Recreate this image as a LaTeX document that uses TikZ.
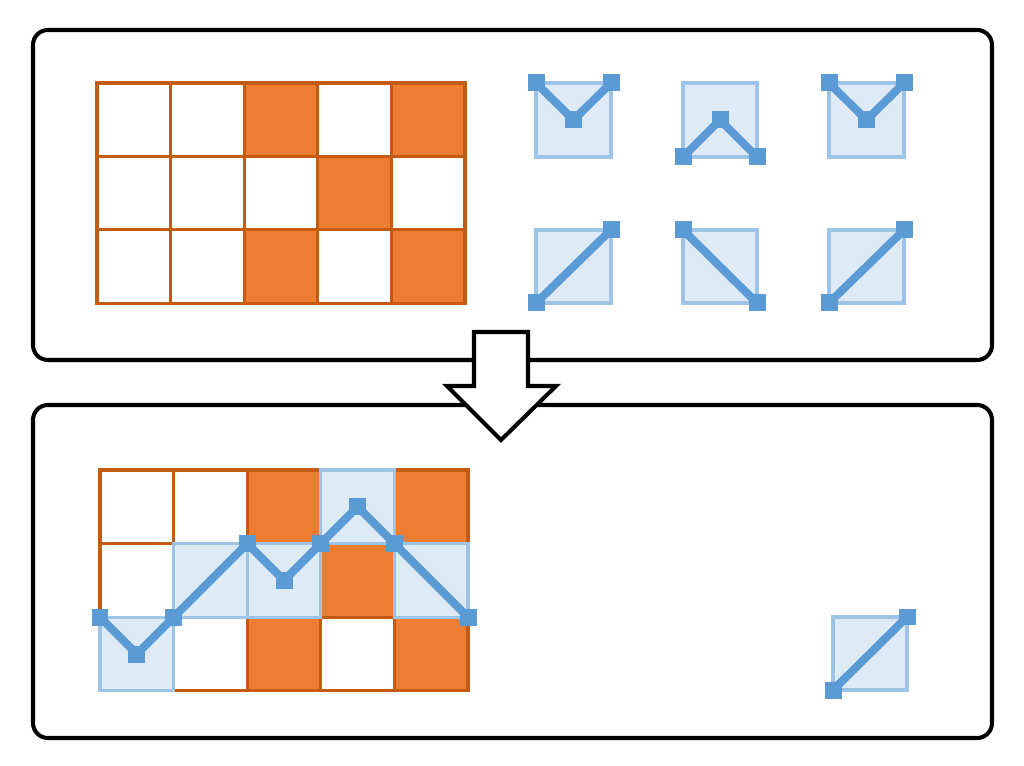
\documentclass[tikz,border=0pt]{standalone}
\usepackage{tikz}
\usetikzlibrary{positioning}
\definecolor{gridorange}{RGB}{197,90,17}
\definecolor{cellorange}{RGB}{237,125,49}
\definecolor{tilefill}{RGB}{222,235,247}
\definecolor{tileedge}{RGB}{157,195,230}
\definecolor{lineblue}{RGB}{91,155,213}

\begin{document}
\begin{tikzpicture}[
        x=0.02cm, y=-0.02cm,
        panel/.style={draw=black, line width=2.3pt, rounded corners=8.5pt},
        cell/.style={draw=gridorange, line width=1.8pt},
        hot/.style={cell, fill=cellorange},
        patch/.style={draw=tileedge, fill=tilefill, line width=1.8pt},
        trace/.style={draw=lineblue, line width=4.6pt, line join=miter},
        knot/.style={rectangle, fill=lineblue, inner sep=0pt, minimum size=0.34cm},
        bigarrow/.style={draw=black, fill=white, line width=2.3pt, line join=miter}
      ]
        \useasboundingbox (0,0) rectangle (1024,766);
        % panels
        \draw[panel] (33,30) rectangle (992,360);
        \draw[panel] (33,405) rectangle (992,738);

        % top grid
        \foreach \r in {0,1,2}
          \foreach \c in {0,...,4}
            \draw[cell] ({97+73.6*\c},{83+73.4*\r}) rectangle +(73.6,73.4);
        \foreach \c/\r in {2/0,4/0,3/1,2/2,4/2}
          \draw[hot] ({97+73.6*\c},{83+73.4*\r}) rectangle +(73.6,73.4);

        % top tiles: valley
        \foreach \x/\y [count=\i] in {536/83,829/83} {
          \draw[patch] (\x,\y) rectangle +(75,74);
          \coordinate (va\i) at (\x,\y);
          \coordinate (vb\i) at (\x+37.5,\y+37);
          \coordinate (vc\i) at (\x+75,\y);
          \draw[trace] (va\i) -- (vb\i) -- (vc\i);
          \node[knot] (kva\i) at (va\i) {};
          \node[knot] (kvb\i) at (vb\i) {};
          \node[knot] (kvc\i) at (vc\i) {};
        }
        % top tiles: peak
        \foreach \x/\y [count=\i] in {683/83} {
          \draw[patch] (\x,\y) rectangle +(74,74);
          \coordinate (pa\i) at (\x,\y+74);
          \coordinate (pb\i) at (\x+37,\y+37);
          \coordinate (pc\i) at (\x+74,\y+74);
          \draw[trace] (pa\i) -- (pb\i) -- (pc\i);
          \node[knot] (kpa\i) at (pa\i) {};
          \node[knot] (kpb\i) at (pb\i) {};
          \node[knot] (kpc\i) at (pc\i) {};
        }
        % top tiles: rising
        \foreach \x/\y [count=\i] in {536/230,829/230} {
          \draw[patch] (\x,\y) rectangle +(75,73);
          \coordinate (ra\i) at (\x,\y+73);
          \coordinate (rb\i) at (\x+75,\y);
          \draw[trace] (ra\i) -- (rb\i);
          \node[knot] (kra\i) at (ra\i) {};
          \node[knot] (krb\i) at (rb\i) {};
        }
        % top tiles: falling
        \foreach \x/\y [count=\i] in {683/230} {
          \draw[patch] (\x,\y) rectangle +(74,73);
          \coordinate (fa\i) at (\x,\y);
          \coordinate (fb\i) at (\x+74,\y+73);
          \draw[trace] (fa\i) -- (fb\i);
          \node[knot] (kfa\i) at (fa\i) {};
          \node[knot] (kfb\i) at (fb\i) {};
        }

        % bottom grid
        \foreach \r in {0,1,2}
          \foreach \c in {0,...,4}
            \draw[cell] ({100+73.6*\c},{470+73.6*\r}) rectangle +(73.6,73.6);
        \foreach \c/\r in {2/0,4/0,3/1,2/2,4/2}
          \draw[hot] ({100+73.6*\c},{470+73.6*\r}) rectangle +(73.6,73.6);

        % placed tiles
        \foreach \c/\r in {0/2,1/1,2/1,3/0,4/1}
          \draw[patch] ({100+73.6*\c},{470+73.6*\r}) rectangle +(73.6,73.6);
        \draw[patch] (833,617) rectangle +(74,73);

        % chain
        \coordinate (p1) at (100,617.2);
        \coordinate (p2) at (136.8,654);
        \coordinate (p3) at (173.6,617.2);
        \coordinate (p4) at (247.2,543.6);
        \coordinate (p5) at (284,580.4);
        \coordinate (p6) at (320.8,543.6);
        \coordinate (p7) at (357.6,506.8);
        \coordinate (p8) at (394.4,543.6);
        \coordinate (p9) at (468,617.2);
        \draw[trace] (p1) -- (p2) -- (p3) -- (p4) -- (p5) -- (p6) -- (p7) -- (p8) -- (p9);
        \foreach \i in {1,...,9}
          \node[knot] (k\i) at (p\i) {};

        % leftover tile
        \coordinate (la) at (833,690);
        \coordinate (lb) at (907,617);
        \draw[trace] (la) -- (lb);
        \node[knot] (kla) at (la) {};
        \node[knot] (klb) at (lb) {};

        % arrow between panels
        \draw[bigarrow] (474,332) -- (528,332) -- (528,386) -- (556,386)
          -- (501,440) -- (447,386) -- (474,386) -- cycle;
      \end{tikzpicture}
\end{document}
